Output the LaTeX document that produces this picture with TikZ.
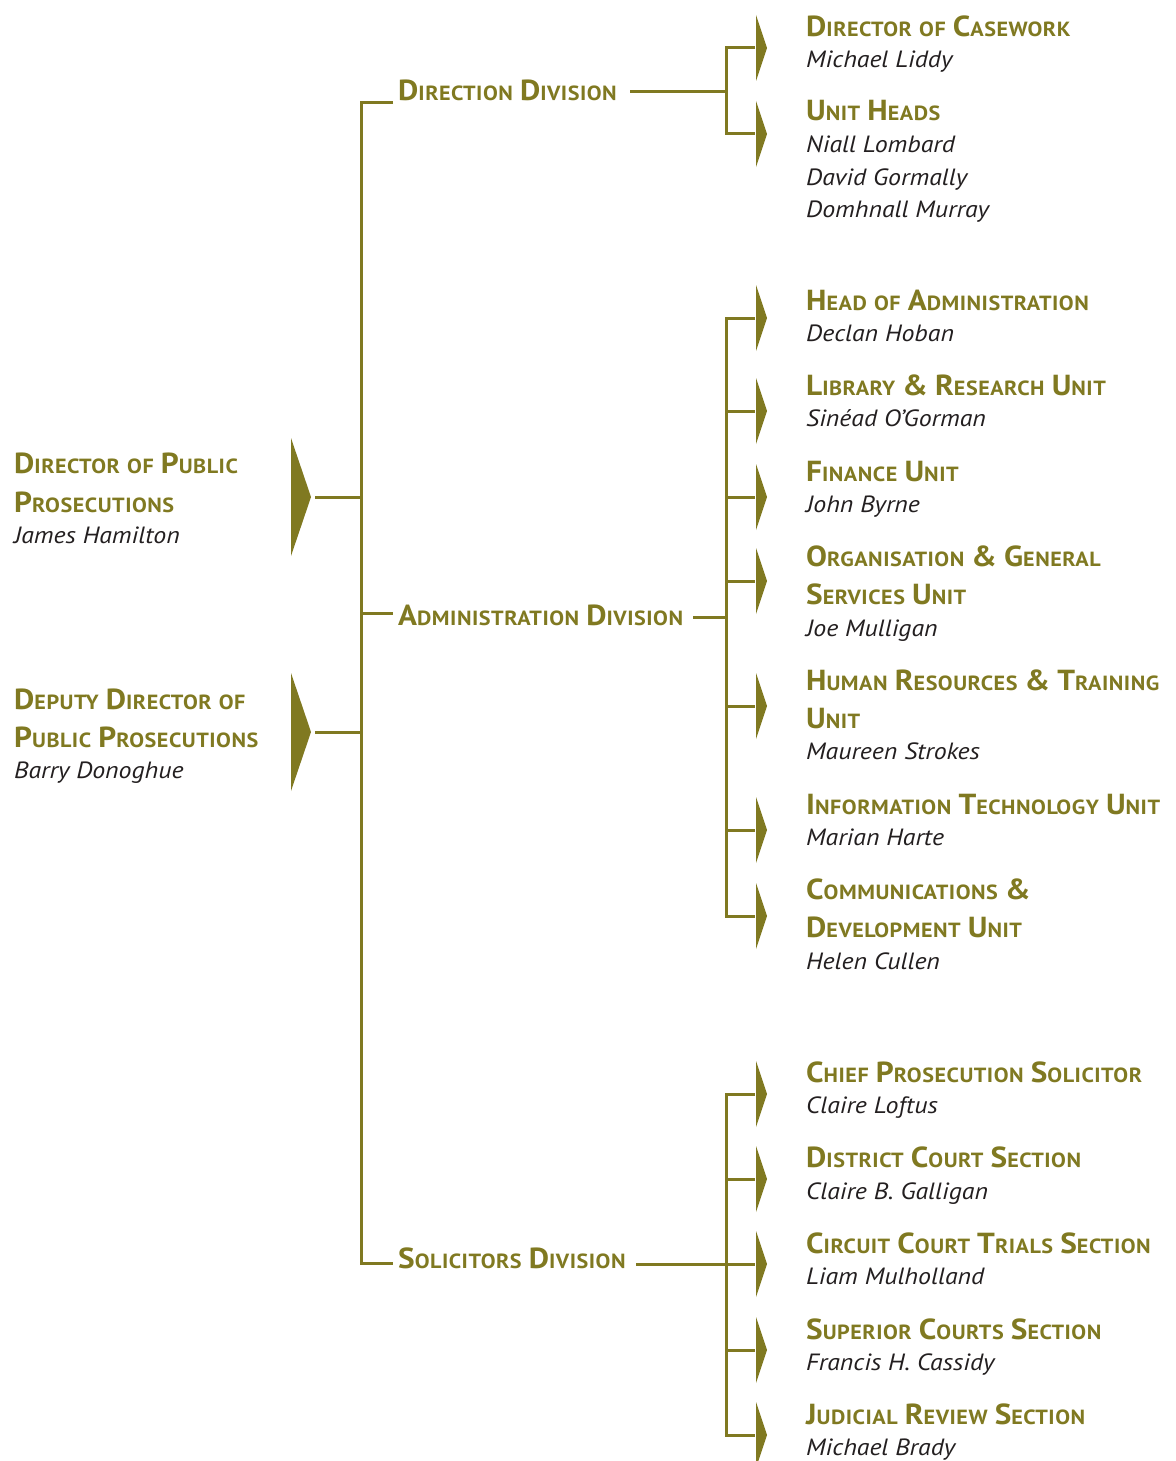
\documentclass[tikz,border=0pt]{standalone}
\usepackage{fontspec}
\setmainfont{PT Sans}
\newfontfamily\hdfont{PT Sans}[FakeStretch=1.08,LetterSpace=2.5]
\newfontfamily\nmfont{PT Sans}[FakeStretch=1.1]
\definecolor{olive}{RGB}{128,121,33}
\definecolor{ink}{RGB}{35,31,32}
\newcommand\bc[2]{{\fontsize{29}{29}\selectfont #1}{\fontsize{20.5}{20.5}\selectfont #2}}
\newcommand\sm[1]{{\fontsize{20.5}{20.5}\selectfont #1}}
\tikzset{
  hd/.style={anchor=base west, inner sep=0pt, text=olive, font=\hdfont\bfseries\fontsize{24}{24}\selectfont},
  nm/.style={anchor=base west, inner sep=0pt, text=ink, font=\nmfont\itshape\fontsize{23.5}{23.5}\selectfont},
  ln/.style={draw=olive, line width=3pt},
  tri/.style={fill=olive, draw=none},
}
\begin{document}
\begin{tikzpicture}[x=1pt,y=-1pt]
\useasboundingbox (0,0) rectangle (1175,1461);
% ---------- left nodes
\node[hd] (dpp1) at (14,473) {\bc{D}{IRECTOR} \sm{OF} \bc{P}{UBLIC}};
\node[hd] (dpp2) at (14,512) {\bc{P}{ROSECUTIONS}};
\node[nm] (dppn) at (14,543) {James Hamilton};
\node[hd] (dep1) at (14,709) {\bc{D}{EPUTY} \bc{D}{IRECTOR} \sm{OF}};
\node[hd] (dep2) at (14,747) {\bc{P}{UBLIC} \bc{P}{ROSECUTIONS}};
\node[nm] (depn) at (14,778) {Barry Donoghue};
% left arrows
\coordinate (dppTip) at (311,497);
\coordinate (depTip) at (311,732);
\fill[tri] (291,438) -- (dppTip) -- (291,556) -- cycle;
\fill[tri] (291,673) -- (depTip) -- (291,791) -- cycle;
% trunk
\coordinate (tTop) at (361,103);
\coordinate (tBot) at (361,1263);
\coordinate (dppJ) at (361,497);
\coordinate (depJ) at (361,732);
\coordinate (admJ) at (361,613);
% divisions
\node[hd] (dir) at (398,101) {\bc{D}{IRECTION} \bc{D}{IVISION}};
\node[hd] (adm) at (398,625) {\bc{A}{DMINISTRATION} \bc{D}{IVISION}};
\node[hd] (sol) at (398,1268) {\bc{S}{OLICITORS} \bc{D}{IVISION}};
\draw[ln] (393,103) -- (tTop) -- (tBot) -- (393,1263);
\draw[ln] (admJ) -- (393,613);
\draw[ln] (315,497) -- (dppJ);
\draw[ln] (315,732) -- (depJ);
% right connectors
\draw[ln] (630,92) -- (726,92);
\draw[ln] (755,48) -- (726,48) -- (726,134) -- (755,134);
\draw[ln] (693,617) -- (726,617);
\draw[ln] (755,318) -- (726,318) -- (726,916) -- (755,916);
\foreach \y in {411,497,581,706,830} \draw[ln] (726,\y) -- (755,\y);
\draw[ln] (636,1264) -- (755,1264);
\draw[ln] (755,1094) -- (726,1094) -- (726,1435) -- (755,1435);
\foreach \y in {1179,1350} \draw[ln] (726,\y) -- (755,\y);
% right arrows
\foreach \y in {48,134,318,411,497,581,706,830,916,1094,1179,1264,1350,1435}
  \fill[tri] (756,\y-33) -- (767,\y) -- (756,\y+33) -- cycle;
% right texts
\node[hd] (cw) at (806,37) {\bc{D}{IRECTOR} \sm{OF} \bc{C}{ASEWORK}};
\node[nm] (cwn) at (806,68) {Michael Liddy};
\node[hd] (uh) at (806,121) {\bc{U}{NIT} \bc{H}{EADS}};
\node[nm] (uhn1) at (806,153) {Niall Lombard};
\node[nm] (uhn2) at (806,185) {David Gormally};
\node[nm] (uhn3) at (806,217) {Domhnall Murray};
\node[hd] (ha) at (806,310) {\bc{H}{EAD} \sm{OF} \bc{A}{DMINISTRATION}};
\node[nm] (han) at (806,341) {Declan Hoban};
\node[hd] (lr) at (806,395) {\bc{L}{IBRARY} \bc{\&}{} \bc{R}{ESEARCH} \bc{U}{NIT}};
\node[nm] (lrn) at (806,426) {Sinéad O’Gorman};
\node[hd] (fu) at (806,481) {\bc{F}{INANCE} \bc{U}{NIT}};
\node[nm] (fun) at (806,512) {John Byrne};
\node[hd] (og1) at (806,566) {\bc{O}{RGANISATION} \bc{\&}{} \bc{G}{ENERAL}};
\node[hd] (og2) at (806,604) {\bc{S}{ERVICES} \bc{U}{NIT}};
\node[nm] (ogn) at (806,636) {Joe Mulligan};
\node[hd] (hr1) at (806,690) {\bc{H}{UMAN} \bc{R}{ESOURCES} \bc{\&}{} \bc{T}{RAINING}};
\node[hd] (hr2) at (806,728) {\bc{U}{NIT}};
\node[nm] (hrn) at (806,759) {Maureen Strokes};
\node[hd] (it) at (806,814) {\bc{I}{NFORMATION} \bc{T}{ECHNOLOGY} \bc{U}{NIT}};
\node[nm] (itn) at (806,845) {Marian Harte};
\node[hd] (cd1) at (806,899) {\bc{C}{OMMUNICATIONS} \bc{\&}{}};
\node[hd] (cd2) at (806,937) {\bc{D}{EVELOPMENT} \bc{U}{NIT}};
\node[nm] (cdn) at (806,969) {Helen Cullen};
\node[hd] (cp) at (806,1082) {\bc{C}{HIEF} \bc{P}{ROSECUTION} \bc{S}{OLICITOR}};
\node[nm] (cpn) at (806,1113) {Claire Loftus};
\node[hd] (dc) at (806,1167) {\bc{D}{ISTRICT} \bc{C}{OURT} \bc{S}{ECTION}};
\node[nm] (dcn) at (806,1199) {Claire B. Galligan};
\node[hd] (cc) at (806,1253) {\bc{C}{IRCUIT} \bc{C}{OURT} \bc{T}{RIALS} \bc{S}{ECTION}};
\node[nm] (ccn) at (806,1284) {Liam Mulholland};
\node[hd] (sc) at (806,1339) {\bc{S}{UPERIOR} \bc{C}{OURTS} \bc{S}{ECTION}};
\node[nm] (scn) at (806,1370) {Francis H. Cassidy};
\node[hd] (jr) at (806,1424) {\bc{J}{UDICIAL} \bc{R}{EVIEW} \bc{S}{ECTION}};
\node[nm] (jrn) at (806,1455) {Michael Brady};
\end{tikzpicture}
\end{document}
